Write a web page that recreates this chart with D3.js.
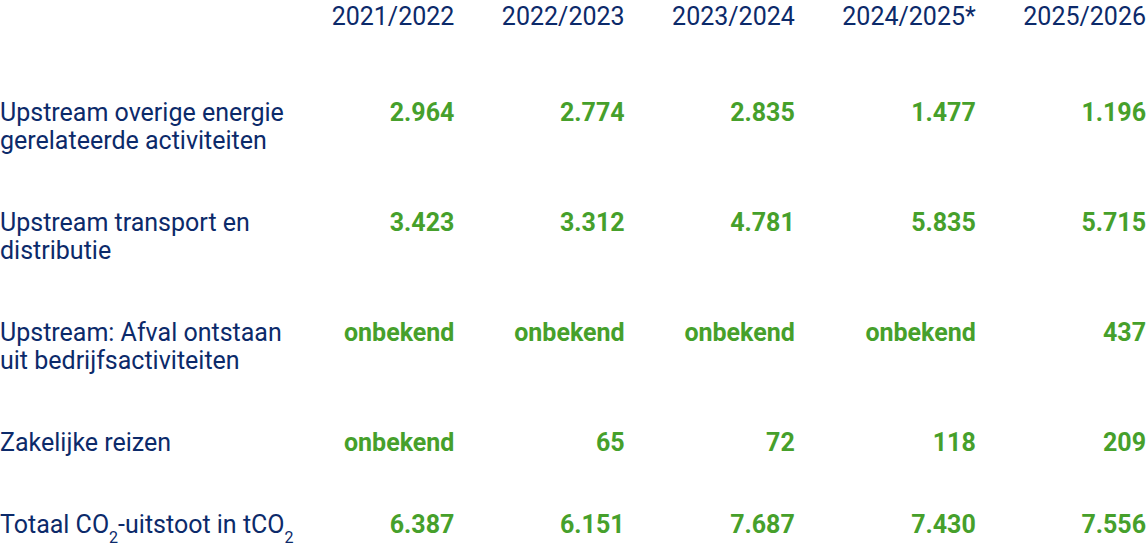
<!DOCTYPE html>
<html>
<head>
<meta charset="utf-8">
<script src="https://cdn.jsdelivr.net/npm/d3@7"></script>
<style>
  body { margin: 0; background: #fff; }
  svg text { font-family: Roboto, "Open Sans", sans-serif; font-size: 25px; }
</style>
</head>
<body>
<svg id="chart" width="1146" height="546"></svg>
<script>
// column headers
var years = ["2021/2022", "2022/2023", "2023/2024", "2024/2025*", "2025/2026"];
// row labels, one array entry per text line
var rowLabels = [
  ["Upstream overige energie", "gerelateerde activiteiten"],
  ["Upstream transport en", "distributie"],
  ["Upstream: Afval ontstaan", "uit bedrijfsactiviteiten"],
  ["Zakelijke reizen"],
  ["Totaal CO2-uitstoot in tCO2"]
];
// values per row (tCO2), "onbekend" where unknown
var energyValues    = ["2.964", "2.774", "2.835", "1.477", "1.196"];
var transportValues = ["3.423", "3.312", "4.781", "5.835", "5.715"];
var wasteValues     = ["onbekend", "onbekend", "onbekend", "onbekend", "437"];
var travelValues    = ["onbekend", "65", "72", "118", "209"];
var totalValues     = ["6.387", "6.151", "7.687", "7.430", "7.556"];

var values = [energyValues, transportValues, wasteValues, travelValues, totalValues];

var navy = "#0c2a6a";
var green = "#46a02b";
var width = 1146;
var lineHeight = 28;
var colGap = 47.5;
var headerBaseline = 25;
var firstRowBaseline = 121;
var rowPadding = 54;

var svg = d3.select("#chart");

// header texts, measured to build column positions right to left
var header = svg.append("g").attr("class", "header");
var headTexts = header.selectAll("text")
  .data(years)
  .enter()
  .append("text")
  .attr("y", headerBaseline)
  .attr("text-anchor", "end")
  .attr("fill", navy)
  .text(function(d) { return d; });

var widths = [];
headTexts.each(function(d, i) { widths[i] = this.getComputedTextLength(); });

var rights = [];
var r = width;
for (var i = years.length - 1; i >= 0; i--) {
  rights[i] = r;
  r = r - widths[i] - colGap;
}
var x = d3.scaleOrdinal().domain(years).range(rights);

headTexts.attr("x", function(d) { return x(d); });

// row baselines depend on how many lines each label takes
var rowY = [];
var y = firstRowBaseline;
rowLabels.forEach(function(lines, i) {
  rowY[i] = y;
  y += lines.length * lineHeight + rowPadding;
});

var rows = svg.selectAll(".row")
  .data(rowLabels)
  .enter()
  .append("g")
  .attr("class", "row")
  .attr("transform", function(d, i) { return "translate(0," + rowY[i] + ")"; });

rows.each(function(lines, i) {
  var g = d3.select(this);
  lines.forEach(function(line, j) {
    var t = g.append("text")
      .attr("x", 0)
      .attr("y", j * lineHeight)
      .attr("fill", navy);
    // subscript the 2 in CO2
    var parts = line.split("CO2");
    parts.forEach(function(p, k) {
      if (p !== "") {
        t.append("tspan").attr("y", j * lineHeight).text(p + (k < parts.length - 1 ? "CO" : ""));
      }
      if (k < parts.length - 1) {
        t.append("tspan")
          .attr("y", j * lineHeight + 10)
          .style("font-size", "16px")
          .text("2");
      }
    });
  });

  g.selectAll(".val")
    .data(values[i])
    .enter()
    .append("text")
    .attr("class", "val")
    .attr("x", function(d, k) { return x(years[k]); })
    .attr("y", 0)
    .attr("text-anchor", "end")
    .attr("fill", green)
    .attr("font-weight", "bold")
    .text(function(d) { return d; });
});
</script>
</body>
</html>
